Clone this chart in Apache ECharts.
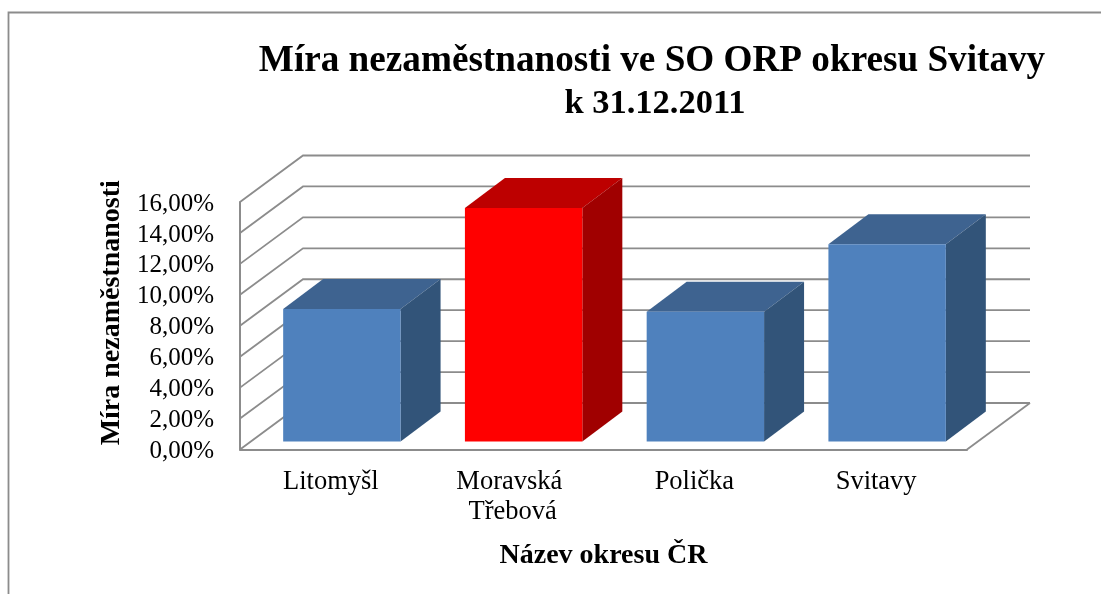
<!DOCTYPE html>
<html>
<head>
<meta charset="utf-8">
<title>Míra nezaměstnanosti</title>
<script src="https://cdn.jsdelivr.net/npm/echarts@6/dist/echarts.min.js"></script>
<style>
    html, body { margin: 0; padding: 0; background: #fff; }
    #chart { width: 1101px; height: 594px; }
</style>
</head>
<body>
<div id="chart"></div>
<script>
// data
const categories = ['Litomyšl', 'Moravská Třebová', 'Polička', 'Svitavy'];
const rates = [8.57, 15.1, 8.38, 12.75];
const gridTicks = [0, 2, 4, 6, 8, 10, 12, 14, 16];
const highlighted = 'Moravská Třebová';

// fake 3D offsets, in pixels
const wallDx = 63, wallDy = 46.5;
const barInsetX = 11, barInsetY = 8;
const barDx = 40, barDy = 30;
const barRatio = 0.646;
const lineColor = '#8c8c8c';
const font = '"Liberation Serif", "Times New Roman", serif';

let chart = echarts.init(document.getElementById('chart'));

function renderWall (params, api) {
    let grid = params.coordSys;
    let y = api.coord([0, api.value(0)])[1];
    let left = grid.x, right = grid.x + grid.width;
    let children = [{
        type: 'polyline',
        shape: { points: [[left, y], [left + wallDx, y - wallDy], [right + wallDx, y - wallDy]] },
        style: { fill: null, stroke: lineColor, lineWidth: 1.8 }
    }];
    // right edge of the floor
    if (api.value(0) === 0) {
        children.push({
            type: 'line',
            shape: { x1: right, y1: y, x2: right + wallDx, y2: y - wallDy },
            style: { stroke: lineColor, lineWidth: 1.8 }
        });
    }
    return { type: 'group', children: children };
}

function renderBar (params, api) {
    let i = api.value(0);
    let base = api.coord([i, 0]);
    let top = api.coord([i, api.value(1)]);
    let w = api.size([1, 0])[0] * barRatio;
    let x0 = base[0] - w / 2 + barInsetX, x1 = x0 + w;
    let y0 = top[1] - barInsetY, y1 = base[1] - barInsetY;
    let red = categories[i] === highlighted;
    return {
        type: 'group',
        children: [{
            type: 'polygon',
            shape: { points: [[x0, y0], [x0 + barDx, y0 - barDy], [x1 + barDx, y0 - barDy], [x1, y0]] },
            style: { fill: red ? '#bd0000' : '#3e6390' }
        }, {
            type: 'polygon',
            shape: { points: [[x1, y0], [x1 + barDx, y0 - barDy], [x1 + barDx, y1 - barDy], [x1, y1]] },
            style: { fill: red ? '#a00000' : '#325479' }
        }, {
            type: 'rect',
            shape: { x: x0, y: y0, width: w, height: y1 - y0 },
            style: { fill: red ? '#ff0000' : '#4f81bd' }
        }]
    };
}

chart.setOption({
    animation: false,
    backgroundColor: '#fff',
    title: {
        text: '{a|Míra nezaměstnanosti ve SO ORP okresu Svitavy}\n{b|k 31.12.2011}',
        left: 647,
        top: 35,
        textAlign: 'center',
        textStyle: {
            rich: {
                a: { fontFamily: font, fontSize: 37.2, fontWeight: 'bold', color: '#000', lineHeight: 43 },
                b: { fontFamily: font, fontSize: 34.5, fontWeight: 'bold', color: '#000', lineHeight: 43, padding: [0, 0, 0, 6] }
            }
        }
    },
    graphic: [{
        type: 'polyline',
        shape: { points: [[8.5, 594], [8.5, 12.5], [1101, 12.5]] },
        style: { fill: null, stroke: lineColor, lineWidth: 1.8 }
    }],
    grid: { left: 240, top: 202, width: 727, height: 247.5 },
    xAxis: {
        type: 'category',
        data: categories,
        name: 'Název okresu ČR',
        nameLocation: 'middle',
        nameGap: 92,
        nameTextStyle: { fontFamily: font, fontSize: 28, fontWeight: 'bold', color: '#000' },
        axisLine: { lineStyle: { color: lineColor, width: 2 } },
        axisTick: { show: false },
        axisLabel: {
            interval: 0, margin: 18, width: 170, overflow: 'break',
            fontFamily: font, fontSize: 26.5, color: '#000', lineHeight: 30
        }
    },
    yAxis: {
        type: 'value',
        min: 0,
        max: 16,
        interval: 2,
        name: 'Míra nezaměstnanosti',
        nameLocation: 'middle',
        nameRotate: 90,
        nameGap: 113,
        nameTextStyle: { fontFamily: font, fontSize: 28, fontWeight: 'bold', color: '#000', padding: [0, 0, 0, 26] },
        splitLine: { show: false },
        axisTick: { show: false },
        axisLine: { show: true, lineStyle: { color: lineColor, width: 2 } },
        axisLabel: {
            margin: 26,
            formatter: (v) => '{v|' + v.toFixed(2).replace('.', ',') + '%}',
            rich: {
                v: { fontFamily: font, fontSize: 25, color: '#000', padding: [4, 0, 0, 0] }
            }
        }
    },
    series: [{
        type: 'custom',
        name: 'walls',
        coordinateSystem: 'cartesian2d',
        renderItem: renderWall,
        data: gridTicks.map((t) => [t]),
        encode: { y: 0 },
        z: 1,
        silent: true
    }, {
        type: 'custom',
        name: 'Míra nezaměstnanosti',
        coordinateSystem: 'cartesian2d',
        renderItem: renderBar,
        data: rates.map((v, i) => [i, v]),
        encode: { x: 0, y: 1 },
        z: 2
    }]
});
</script>
</body>
</html>
